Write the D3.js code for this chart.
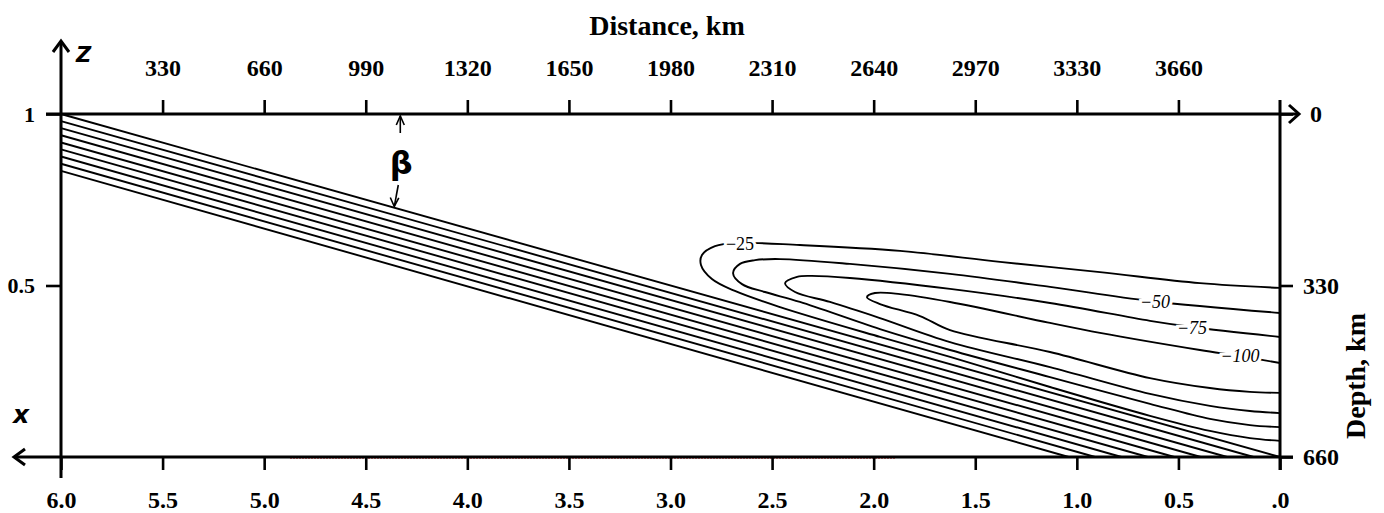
<!DOCTYPE html>
<html><head><meta charset="utf-8">
<script src="https://cdn.jsdelivr.net/npm/d3@7"></script>
<style>body{margin:0;background:#fff}svg{display:block}</style>
</head><body><svg id="c" width="1384" height="513"></svg>
<script>
// ---------- data ----------
const distTicks  = [330,660,990,1320,1650,1980,2310,2640,2970,3300,3630];
const distLabels = ["330","660","990","1320","1650","1980","2310","2640","2970","3330","3660"];
const xTicks  = [6,5.5,5,4.5,4,3.5,3,2.5,2,1.5,1,0.5,0];
const xLabels = ["6.0","5.5","5.0","4.5","4.0","3.5","3.0","2.5","2.0","1.5","1.0","0.5",".0"];
const zTicks  = [1,0.5];
const zLabels = ["1","0.5"];
const depthTicks  = [0,330,660];
const depthLabels = ["0","330","660"];

// slab isolines: z at left edge (x=6) and x where they reach z=0
const slabZLeft   = [1,0.979,0.959,0.938,0.917,0.897,0.876,0.855,0.834];
const slabXBottom = [0,0.13,0.26,0.39,0.52,0.65,0.78,0.91,1.04];

// closed-loop anomaly contours, [x, z]
const levels = ["−25","−50","−75","−100"];
const c25 = [[0,0.493],[0.394,0.507],[0.886,0.539],[1.378,0.569],[1.870,0.601],[2.363,0.618],[2.658,0.624],[2.781,0.615],[2.845,0.589],[2.850,0.560],[2.796,0.519],[2.683,0.484],[2.461,0.437],[1.969,0.350],[1.624,0.292],[1.132,0.204],[0.640,0.120],[0.345,0.076],[0.148,0.055],[0,0.047]];
const c50 = [[0,0.420],[0.640,0.455],[1.132,0.496],[1.624,0.534],[2.117,0.563],[2.461,0.577],[2.584,0.574],[2.658,0.563],[2.692,0.536],[2.648,0.504],[2.535,0.481],[2.363,0.452],[1.969,0.373],[1.624,0.312],[1.132,0.233],[0.640,0.155],[0.345,0.111],[0.148,0.093],[0,0.087]];
const c75 = [[0,0.350],[0.433,0.379],[0.640,0.397],[1.132,0.449],[1.624,0.490],[2.117,0.522],[2.313,0.528],[2.377,0.525],[2.436,0.507],[2.387,0.481],[2.215,0.452],[1.969,0.405],[1.624,0.335],[1.132,0.262],[0.640,0.184],[0.345,0.149],[0.148,0.134],[0,0.128]];
const c100 = [[0,0.274],[0.197,0.294],[0.394,0.312],[0.886,0.362],[1.132,0.391],[1.624,0.452],[1.870,0.475],[1.994,0.478],[2.033,0.466],[1.969,0.446],[1.772,0.411],[1.624,0.370],[1.132,0.306],[0.640,0.230],[0.345,0.201],[0.148,0.190],[0,0.187]];
const labelX = [2.658,0.615,0.433,0.197];
const labelZ = [0.621,0.452,0.376,0.294];
const betaX = 4.33;

// ---------- drawing ----------
const svg = d3.select("#c");
const x = d3.scaleLinear().domain([6,0]).range([61,1280]);
const z = d3.scaleLinear().domain([0,1]).range([457,114]);
const dist = d3.scaleLinear().domain([0,3960]).range([61,1280]);
const depth = d3.scaleLinear().domain([0,660]).range([114,457]);
const serif = "'Liberation Serif','Times New Roman',serif";
const sans = "'DejaVu Sans',sans-serif";

// faint red scan artefact along bottom axis
svg.append("line").attr("x1",290).attr("x2",895).attr("y1",458.5).attr("y2",458.5)
  .attr("stroke","#d84040").attr("stroke-width",1).attr("stroke-dasharray","2,1").attr("opacity",0.7);

const line = d3.line().x(d=>x(d[0])).y(d=>z(d[1]));
const curve = d3.line().x(d=>x(d[0])).y(d=>z(d[1])).curve(d3.curveCatmullRom.alpha(0.5));

const g = svg.append("g").attr("fill","none").attr("stroke","#000").attr("stroke-width",1.9);
slabZLeft.forEach((zl,i)=>{
  g.append("path").attr("d", line([[6,zl],[slabXBottom[i],0]]));
});
[c25,c50,c75,c100].forEach(c=>{
  g.append("path").attr("d", curve(c));
});

levels.forEach((t,i)=>{
  svg.append("text").attr("x",x(labelX[i])).attr("y",z(labelZ[i])).attr("dy","0.35em")
    .attr("text-anchor","middle").attr("font-family",serif).attr("font-size",18)
    .attr("font-style", i===0 ? "normal" : "italic")
    .attr("stroke","#fff").attr("stroke-width",6).attr("paint-order","stroke")
    .attr("fill","#000").text(t);
});

// axes
function styleAxis(sel, fs){
  sel.select(".domain").remove();
  sel.selectAll(".tick line").attr("stroke","#000").attr("stroke-width",2.6);
  sel.selectAll(".tick text").attr("fill","#000").attr("font-family",serif)
     .attr("font-weight","bold").attr("font-size",fs);
}
const gTop = svg.append("g").attr("transform","translate(0,114)")
  .call(d3.axisTop(dist).tickValues(distTicks).tickFormat((d,i)=>distLabels[i]).tickSize(14).tickPadding(24));
styleAxis(gTop,24);
const gBot = svg.append("g").attr("transform","translate(0,457)")
  .call(d3.axisBottom(x).tickValues(xTicks).tickFormat((d,i)=>xLabels[i]).tickSize(13).tickPadding(21));
styleAxis(gBot,24);
const gLeft = svg.append("g").attr("transform","translate(61,0)")
  .call(d3.axisLeft(z).tickValues(zTicks).tickFormat((d,i)=>zLabels[i]).tickSize(15).tickPadding(11));
styleAxis(gLeft,22);
const gRight = svg.append("g").attr("transform","translate(1280,0)")
  .call(d3.axisRight(depth).tickValues(depthTicks).tickFormat((d,i)=>depthLabels[i]).tickSize(13).tickPadding(10));
styleAxis(gRight,24);
gRight.selectAll(".tick").filter(d=>d===0).select("text").attr("x",30);

const ax = svg.append("g").attr("fill","none").attr("stroke","#000").attr("stroke-width",3)
  .attr("stroke-linecap","butt");
ax.append("line").attr("x1",61).attr("x2",61).attr("y1",41).attr("y2",478);
ax.append("line").attr("x1",1280).attr("x2",1280).attr("y1",100).attr("y2",470);
ax.append("line").attr("x1",46).attr("x2",1299).attr("y1",114).attr("y2",114);
ax.append("line").attr("x1",14).attr("x2",1293).attr("y1",457).attr("y2",457);
ax.append("polyline").attr("points","53,52 61,41 69,52");
ax.append("polyline").attr("points","1289,105 1299,114 1289,123");
ax.append("polyline").attr("points","25,449 14,457 25,465");

// axis titles
svg.append("text").attr("x",667).attr("y",35).attr("text-anchor","middle")
  .attr("font-family",serif).attr("font-weight","bold").attr("font-size",28).text("Distance, km");
svg.append("text").attr("transform","translate(1365,376) rotate(-90)").attr("text-anchor","middle")
  .attr("font-family",serif).attr("font-weight","bold").attr("font-size",28).text("Depth, km");
svg.append("text").attr("x",76).attr("y",62).attr("font-family",sans).attr("font-weight","bold")
  .attr("font-style","italic").attr("font-size",21).text("Z");
svg.append("text").attr("x",13).attr("y",423).attr("font-family",sans).attr("font-weight","bold")
  .attr("font-style","italic").attr("font-size",25).text("x");

// beta annotation
const bx = x(betaX);
const by = z(1-(6-betaX)/6)-3;
const ba = svg.append("g").attr("fill","none").attr("stroke","#000").attr("stroke-width",1.6);
ba.append("line").attr("x1",bx).attr("x2",bx).attr("y1",z(1)+2).attr("y2",z(1)+19);
ba.append("polyline").attr("points",`${bx-4},${z(1)+11} ${bx},${z(1)+2} ${bx+4},${z(1)+11}`);
ba.append("line").attr("x1",bx-2).attr("x2",bx-6).attr("y1",185).attr("y2",by);
ba.append("polyline").attr("points",`${bx-10},${by-9} ${bx-6},${by} ${bx-1.5},${by-8.5}`);
svg.append("text").attr("x",bx+1).attr("y",174).attr("text-anchor","middle")
  .attr("font-family",sans).attr("font-weight","bold").attr("font-size",32).text("β");
</script></body></html>
